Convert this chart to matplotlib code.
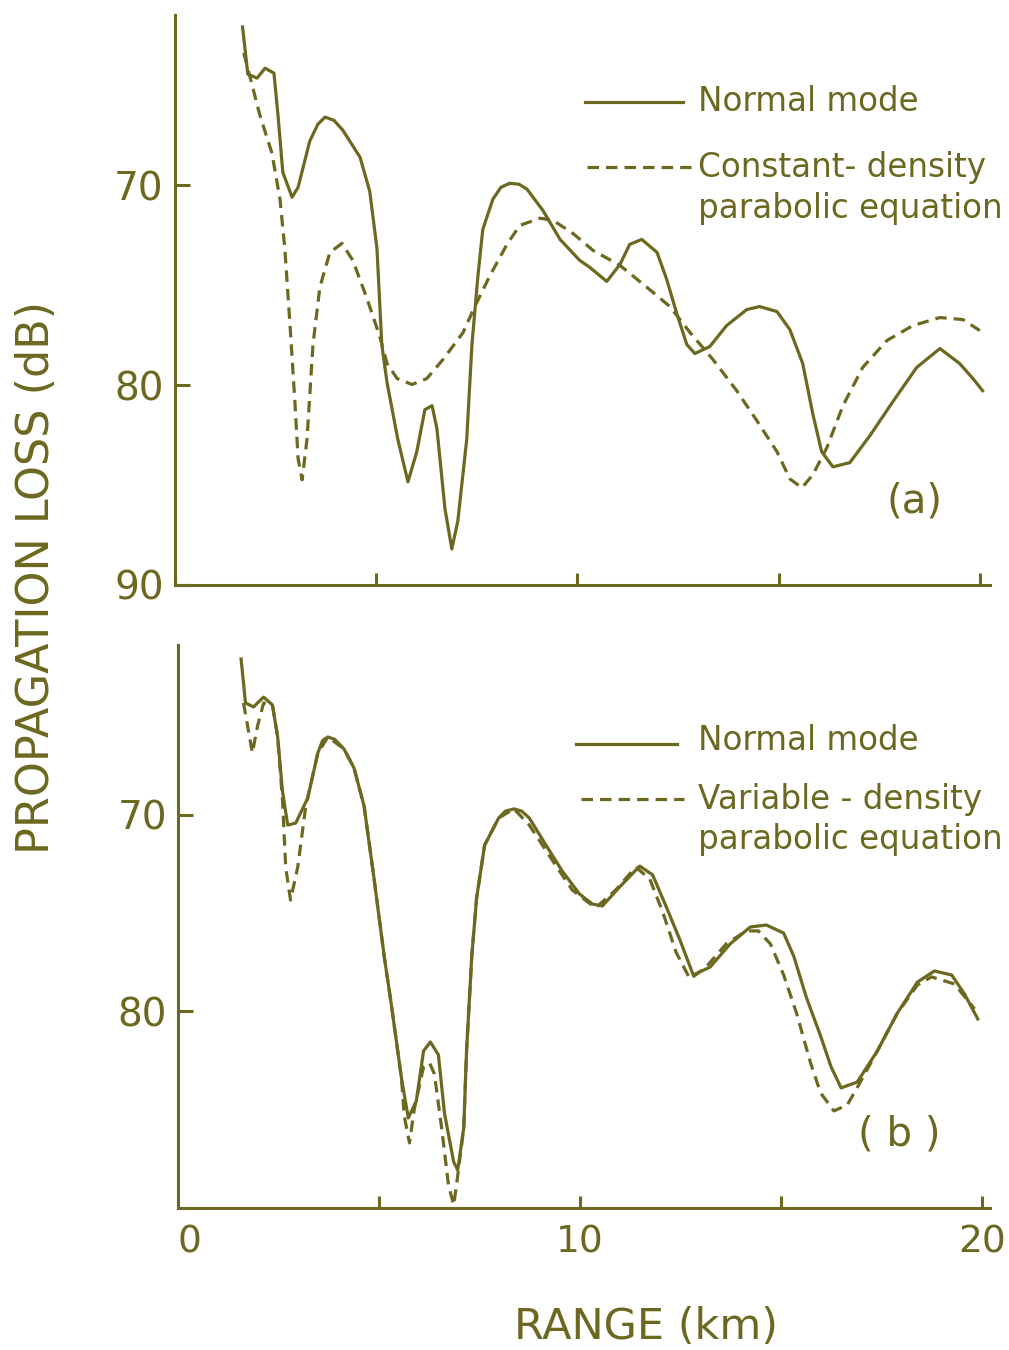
import numpy as np
import matplotlib
matplotlib.use("Agg")
import matplotlib.pyplot as plt

# ---- data (range in km, propagation loss in dB) ----
# (a) normal mode
a_nm_r = [1.68, 1.81, 2.04, 2.24, 2.46, 2.56, 2.68, 2.91, 3.06, 3.35, 3.55, 3.73, 3.95, 4.17,
          4.60, 4.84, 5.02, 5.14, 5.27, 5.54, 5.79, 6.01, 6.21, 6.39, 6.51, 6.71, 6.88, 7.03,
          7.25, 7.38, 7.53, 7.65, 7.90, 8.10, 8.32, 8.55, 8.75, 9.14, 9.57, 10.06, 10.31,
          10.73, 11.06, 11.30, 11.60, 11.98, 12.22, 12.47, 12.72, 12.92, 13.29, 13.71, 14.21,
          14.53, 14.96, 15.28, 15.60, 15.85, 16.07, 16.35, 16.77, 17.27, 17.84, 18.43, 19.01,
          19.50, 19.83, 20.07]
a_nm_tl = [62.08, 64.44, 64.64, 64.14, 64.39, 66.49, 69.35, 70.60, 70.10, 67.79, 66.95, 66.59,
           66.75, 67.24, 68.60, 70.30, 73.16, 77.97, 79.87, 82.73, 84.84, 83.33, 81.23, 81.03,
           82.18, 86.19, 88.20, 86.79, 82.73, 77.97, 74.51, 72.21, 70.70, 70.10, 69.90, 69.95,
           70.20, 71.25, 72.71, 73.76, 74.11, 74.81, 73.96, 72.96, 72.71, 73.36, 74.71, 76.42,
           77.97, 78.42, 78.07, 77.02, 76.22, 76.07, 76.32, 77.22, 78.92, 81.43, 83.33, 84.09,
           83.88, 82.53, 80.83, 79.12, 78.17, 78.92, 79.67, 80.28]

# (a) constant-density parabolic equation
a_pe_r = [1.71, 1.86, 2.11, 2.41, 2.61, 2.73, 2.86, 2.98, 3.06, 3.16, 3.28, 3.43, 3.60, 3.85,
          4.15, 4.42, 4.77, 5.09, 5.27, 5.52, 5.89, 6.26, 6.66, 7.16, 7.45, 7.83, 8.25, 8.57,
          9.07, 9.39, 9.89, 10.39, 11.06, 11.73, 12.30, 12.80, 13.37, 13.96, 14.46, 14.96,
          15.28, 15.58, 15.85, 16.20, 16.60, 17.09, 17.69, 18.34, 19.01, 19.58, 20.00]
a_pe_tl = [63.38, 64.54, 66.49, 68.40, 70.70, 73.16, 77.02, 80.83, 83.68, 84.74, 82.73, 77.97,
           75.11, 73.36, 72.91, 73.76, 75.66, 77.57, 78.92, 79.67, 79.97, 79.67, 78.72, 77.37,
           76.07, 74.51, 72.96, 72.01, 71.65, 71.75, 72.41, 73.26, 74.01, 75.11, 76.07, 77.37,
           78.72, 80.28, 81.78, 83.33, 84.69, 85.14, 84.49, 83.13, 81.03, 79.12, 77.77, 77.02,
           76.62, 76.72, 77.27]

# (b) normal mode
b_nm_r = [1.57, 1.68, 1.88, 2.13, 2.35, 2.48, 2.60, 2.73, 2.93, 3.23, 3.48, 3.60, 3.73, 3.90,
          4.13, 4.38, 4.63, 4.88, 5.13, 5.31, 5.56, 5.73, 5.93, 6.11, 6.28, 6.48, 6.63, 6.86,
          6.96, 7.11, 7.18, 7.31, 7.43, 7.63, 7.98, 8.15, 8.36, 8.55, 8.74, 9.14, 9.56, 9.99,
          10.31, 10.56, 10.99, 11.49, 11.81, 12.14, 12.49, 12.82, 13.24, 13.74, 14.24, 14.64,
          15.07, 15.32, 15.64, 15.99, 16.25, 16.50, 16.90, 17.40, 17.90, 18.40, 18.82, 19.25,
          19.57, 19.90]
b_nm_tl = [62.06, 64.30, 64.50, 64.00, 64.40, 66.03, 68.78, 70.51, 70.41, 69.13, 66.84, 66.20,
           66.03, 66.15, 66.64, 67.61, 69.54, 73.26, 77.18, 79.67, 83.38, 85.42, 84.55, 82.01,
           81.55, 82.21, 85.17, 87.66, 88.07, 85.93, 82.01, 77.18, 74.22, 71.53, 70.15, 69.80,
           69.69, 69.80, 70.15, 71.48, 72.85, 74.02, 74.53, 74.63, 73.66, 72.60, 73.05, 74.63,
           76.36, 78.14, 77.74, 76.56, 75.70, 75.60, 76.01, 77.18, 79.31, 81.25, 82.82, 83.89,
           83.59, 82.01, 80.08, 78.50, 77.94, 78.14, 79.11, 80.38]

# (b) variable-density parabolic equation
b_pe_r = [1.63, 1.75, 1.85, 1.98, 2.13, 2.35, 2.48, 2.60, 2.68, 2.80, 2.98, 3.18, 3.48, 3.73,
          4.13, 4.38, 4.63, 4.88, 5.13, 5.31, 5.56, 5.63, 5.76, 5.88, 6.11, 6.26, 6.38, 6.56,
          6.73, 6.86, 6.93, 7.11, 7.18, 7.31, 7.43, 7.63, 7.98, 8.36, 8.74, 9.31, 9.81, 10.39,
          10.89, 11.39, 11.74, 12.07, 12.39, 12.74, 13.14, 13.64, 14.14, 14.44, 14.74, 15.07,
          15.39, 15.74, 15.99, 16.32, 16.65, 16.87, 17.40, 17.90, 18.40, 18.75, 19.32, 19.82]
b_pe_tl = [64.30, 65.67, 66.84, 65.47, 64.30, 64.40, 66.03, 69.24, 72.65, 74.33, 72.65, 69.54,
           66.84, 66.03, 66.64, 67.61, 69.54, 73.26, 77.18, 79.67, 83.38, 85.32, 86.69, 84.96,
           82.82, 82.62, 83.18, 85.93, 88.83, 89.85, 88.83, 85.93, 82.01, 77.18, 74.22, 71.53,
           70.15, 69.69, 70.51, 72.29, 73.82, 74.73, 73.82, 72.65, 73.26, 74.99, 76.97, 78.35,
           77.74, 76.56, 75.90, 75.90, 76.56, 78.14, 80.08, 82.62, 84.15, 85.06, 84.76, 83.99,
           82.01, 80.08, 78.65, 78.24, 78.60, 79.87]

COL = "#6c681f"
LW = 2.3
DASH = (0, (3.6, 2.2))
FONT = ["DejaVu Sans"]

plt.rcParams["font.family"] = FONT
plt.rcParams["text.color"] = COL

fig = plt.figure(figsize=(10.09, 13.5), dpi=100)
ax_a = fig.add_axes([0.1734, 0.5667, 0.8076, 0.4222])
ax_b = fig.add_axes([0.1764, 0.1052, 0.8046, 0.4170])


def style_axis(ax, xmax, ytop, yticks, ylabels, xlabels):
    ax.set_xlim(0, xmax)
    ax.set_ylim(90, ytop)
    for s in ["top", "right"]:
        ax.spines[s].set_visible(False)
    for s in ["left", "bottom"]:
        ax.spines[s].set_color(COL)
        ax.spines[s].set_linewidth(2.2)
    ax.set_yticks(yticks)
    ax.set_yticklabels(ylabels)
    ax.set_xticks([0, 5, 10, 15, 20])
    ax.set_xticklabels(xlabels)
    ax.tick_params(axis="y", direction="in", length=11, width=2.2, color=COL,
                   labelcolor=COL, labelsize=28, pad=8)
    ax.tick_params(axis="x", direction="in", length=9, width=2.2, color=COL,
                   labelcolor=COL, labelsize=27, pad=12)
    ax.patch.set_alpha(0)


# panel (a)
ax_a.plot(a_nm_r, a_nm_tl, color=COL, lw=LW, solid_joinstyle="round")
ax_a.plot(a_pe_r, a_pe_tl, color=COL, lw=LW, linestyle=DASH)
style_axis(ax_a, 20.25, 61.48, [70, 80, 90], ["70", "80", "90"], ["", "", "", "", ""])

ax_a.plot([0.5035, 0.6240], [0.8477, 0.8477], transform=ax_a.transAxes, color=COL, lw=LW)
ax_a.plot([0.5060, 0.6327], [0.7327, 0.7327], transform=ax_a.transAxes, color=COL, lw=LW,
          linestyle=DASH)
ax_a.text(0.6415, 0.8477, "Normal mode", transform=ax_a.transAxes, fontsize=23.5,
          va="center", ha="left")
ax_a.text(0.6415, 0.7327, "Constant- density", transform=ax_a.transAxes, fontsize=23.5,
          va="center", ha="left")
ax_a.text(0.6415, 0.6597, "parabolic equation", transform=ax_a.transAxes, fontsize=23.5,
          va="center", ha="left")
ax_a.text(0.9080, 0.1460, "(a)", transform=ax_a.transAxes, fontsize=29,
          va="center", ha="center")

# panel (b)
ax_b.plot(b_nm_r, b_nm_tl, color=COL, lw=LW, solid_joinstyle="round")
ax_b.plot(b_pe_r, b_pe_tl, color=COL, lw=LW, linestyle=DASH)
style_axis(ax_b, 20.2, 61.35, [70, 80], ["70", "80"], ["0", "", "10", "", "20"])
# the hand-lettered "0" sits a little right of the origin
ax_b.get_xticklabels()[0].set_horizontalalignment("left")

ax_b.plot([0.4900, 0.6145], [0.8250, 0.8250], transform=ax_b.transAxes, color=COL, lw=LW)
ax_b.plot([0.4960, 0.6230], [0.7260, 0.7260], transform=ax_b.transAxes, color=COL, lw=LW,
          linestyle=DASH)
ax_b.text(0.6400, 0.8300, "Normal mode", transform=ax_b.transAxes, fontsize=23.5,
          va="center", ha="left")
ax_b.text(0.6400, 0.7260, "Variable - density", transform=ax_b.transAxes, fontsize=23.5,
          va="center", ha="left")
ax_b.text(0.6400, 0.6540, "parabolic equation", transform=ax_b.transAxes, fontsize=23.5,
          va="center", ha="left")
ax_b.text(0.8880, 0.1300, "( b )", transform=ax_b.transAxes, fontsize=29,
          va="center", ha="center")

fig.text(0.036, 0.572, "PROPAGATION LOSS (dB)", rotation=90, fontsize=32,
         va="center", ha="center", color=COL)
fig.text(0.640, 0.017, "RANGE (km)", fontsize=31, va="center", ha="center", color=COL)

fig.savefig("out.png", dpi=100, facecolor="white")
